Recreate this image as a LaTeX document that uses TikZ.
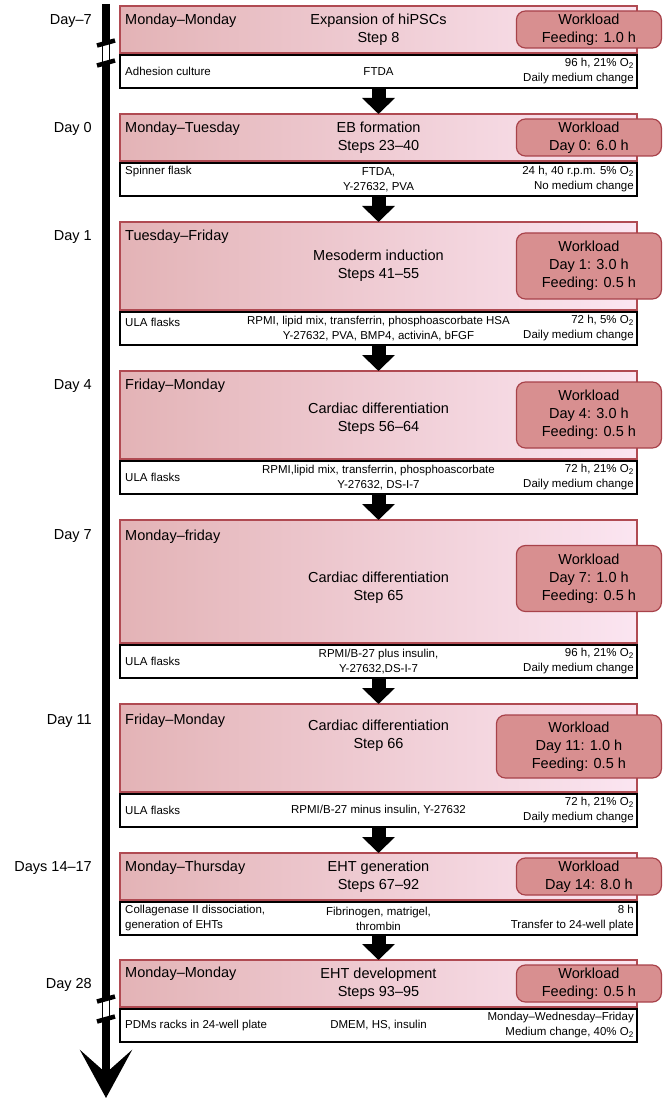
\documentclass[tikz,border=0pt]{standalone}
\usepackage{fontspec}
\setmainfont{Liberation Sans}
\usepackage{tikz}
\usetikzlibrary{arrows.meta, positioning}
\usepackage{xcolor}
\definecolor{HdrLeft}{HTML}{E3B3B6}
\definecolor{HdrRight}{HTML}{FBE5F1}
\definecolor{HdrEdge}{HTML}{B04A52}
\definecolor{WorkFill}{HTML}{D88F90}
\definecolor{WorkEdge}{HTML}{A8424A}
\tikzset{
  hdrbox/.style={draw=HdrEdge, line width=1.1pt, left color=HdrLeft, right color=HdrRight,
    minimum width=517pt, inner sep=0pt, outer sep=0pt},
  rowbox/.style={draw=black, line width=1.1pt, fill=white, minimum width=517pt,
    minimum height=33pt, inner sep=0pt, outer sep=0pt},
  wlbox/.style={draw=WorkEdge, line width=1.2pt, fill=WorkFill, rounded corners=9pt, align=center,
    minimum width=145pt, inner sep=0pt, anchor=east, font=\fontsize{14.5}{18}\selectfont},
  daytext/.style={anchor=east, inner sep=0pt, font=\fontsize{14.5}{18}\selectfont},
  weektext/.style={anchor=west, inner sep=0pt, font=\fontsize{14.5}{18}\selectfont},
  titletext/.style={align=center, inner sep=0pt, font=\fontsize{14.5}{18}\selectfont},
  ltext/.style={anchor=west, align=left, inner sep=0pt, font=\fontsize{11.5}{15}\selectfont},
  mtext/.style={align=center, inner sep=0pt, font=\fontsize{11.5}{15}\selectfont},
  rtext/.style={anchor=east, align=right, inner sep=0pt, font=\fontsize{11.5}{15}\selectfont},
  flow/.style={-{Triangle[length=16pt, width=32pt]}, line width=14pt},
  timeline/.style={-{Stealth[length=48pt, width=52pt, inset=23pt]}, line width=8pt},
}
\newcommand{\Otwo}{O\textsubscript{2}}
% cut marks on the time axis, #1 = middle of the gap
\newcommand{\timebreak}[1]{%
  \fill[white] (102,#1+10) rectangle (110,#1-10);
  \draw[line width=0.6pt] (102.3,#1+10) -- (102.3,#1-10) (109.7,#1+10) -- (109.7,#1-10);
  \draw[line width=4.5pt] (97,#1+7.5) -- (115,#1+12.5);
  \draw[line width=4.5pt] (97,#1-12.5) -- (115,#1-7.5);
}

\begin{document}
\begin{tikzpicture}[x=1pt, y=1pt]
  \useasboundingbox (0,0) rectangle (668,-1099);

  % time axis
  \coordinate (tltop) at (106,-4);
  \coordinate (tlend) at (106,-1098);
  \draw[timeline] (tltop) -- (tlend);

  % stages
  \node[hdrbox, minimum height=47pt, anchor=north west] (h1) at (120,-6) {};
  \node[rowbox, below=2pt of h1] (r1) {};
  \node[hdrbox, minimum height=47pt, below=26pt of r1] (h2) {};
  \node[rowbox, below=2pt of h2] (r2) {};
  \node[hdrbox, minimum height=88pt, below=26pt of r2] (h3) {};
  \node[rowbox, below=2pt of h3] (r3) {};
  \node[hdrbox, minimum height=88pt, below=26pt of r3] (h4) {};
  \node[rowbox, below=2pt of h4] (r4) {};
  \node[hdrbox, minimum height=123pt, below=26pt of r4] (h5) {};
  \node[rowbox, below=2pt of h5] (r5) {};
  \node[hdrbox, minimum height=88pt, below=26pt of r5] (h6) {};
  \node[rowbox, below=2pt of h6] (r6) {};
  \node[hdrbox, minimum height=47pt, below=26pt of r6] (h7) {};
  \node[rowbox, below=2pt of h7] (r7) {};
  \node[hdrbox, minimum height=47pt, below=25pt of r7] (h8) {};
  \node[rowbox, below=2pt of h8] (r8) {};

  \draw[flow] (r1) -- (h2); \draw[flow] (r2) -- (h3); \draw[flow] (r3) -- (h4);
  \draw[flow] (r4) -- (h5); \draw[flow] (r5) -- (h6); \draw[flow] (r6) -- (h7);
  \draw[flow] (r7) -- (h8);

  \timebreak{-53}
  \timebreak{-1009}

  % day labels
  \node[daytext] (d1) at ([shift={(-28pt,-15pt)}]h1.north west) {Day–7};
  \node[daytext] (d2) at ([shift={(-28pt,-15pt)}]h2.north west) {Day 0};
  \node[daytext] (d3) at ([shift={(-28pt,-15pt)}]h3.north west) {Day 1};
  \node[daytext] (d4) at ([shift={(-28pt,-15pt)}]h4.north west) {Day 4};
  \node[daytext] (d5) at ([shift={(-28pt,-16pt)}]h5.north west) {Day 7};
  \node[daytext] (d6) at ([shift={(-28pt,-17pt)}]h6.north west) {Day 11};
  \node[daytext] (d7) at ([shift={(-28pt,-15pt)}]h7.north west) {Days 14–17};
  \node[daytext] (d8) at ([shift={(-28pt,-25pt)}]h8.north west) {Day 28};

  % weekdays
  \node[weektext] (k1) at ([shift={(5pt,-15pt)}]h1.north west) {Monday–Monday};
  \node[weektext] (k2) at ([shift={(5pt,-15pt)}]h2.north west) {Monday–Tuesday};
  \node[weektext] (k3) at ([shift={(5pt,-15pt)}]h3.north west) {Tuesday–Friday};
  \node[weektext] (k4) at ([shift={(5pt,-15pt)}]h4.north west) {Friday–Monday};
  \node[weektext] (k5) at ([shift={(5pt,-17pt)}]h5.north west) {Monday–friday};
  \node[weektext] (k6) at ([shift={(5pt,-17pt)}]h6.north west) {Friday–Monday};
  \node[weektext] (k7) at ([shift={(5pt,-15pt)}]h7.north west) {Monday–Thursday};
  \node[weektext] (k8) at ([shift={(5pt,-14pt)}]h8.north west) {Monday–Monday};

  % titles
  \node[titletext] (t1) at (h1) {Expansion of hiPSCs\\Step 8};
  \node[titletext] (t2) at (h2) {EB formation\\Steps 23–40};
  \node[titletext] (t3) at (h3) {Mesoderm induction\\Steps 41–55};
  \node[titletext] (t4) at ([yshift=-4pt]h4.center) {Cardiac differentiation\\Steps 56–64};
  \node[titletext] (t5) at ([yshift=-6pt]h5.center) {Cardiac differentiation\\Step 65};
  \node[titletext, anchor=north] (t6) at ([yshift=-15.5pt]h6.north) {Cardiac differentiation\\Step 66};
  \node[titletext] (t7) at (h7) {EHT generation\\Steps 67–92};
  \node[titletext] (t8) at (h8) {EHT development\\Steps 93–95};

  % workload
  \node[wlbox, minimum height=37pt] (w1) at ([xshift=25pt]h1.east) {Workload\\Feeding: 1.0 h};
  \node[wlbox, minimum height=37pt] (w2) at ([xshift=25pt]h2.east) {Workload\\Day 0: 6.0 h};
  \node[wlbox, minimum height=66pt] (w3) at ([xshift=25pt]h3.east) {Workload\\Day 1: 3.0 h\\Feeding: 0.5 h};
  \node[wlbox, minimum height=66pt] (w4) at ([xshift=25pt]h4.east) {Workload\\Day 4: 3.0 h\\Feeding: 0.5 h};
  \node[wlbox, minimum height=66pt] (w5) at ([shift={(25pt,3pt)}]h5.east) {Workload\\Day 7: 1.0 h\\Feeding: 0.5 h};
  \node[wlbox, minimum height=63pt, minimum width=165pt] (w6) at ([shift={(25pt,1.5pt)}]h6.east) {Workload\\Day 11: 1.0 h\\Feeding: 0.5 h};
  \node[wlbox, minimum height=37pt] (w7) at ([xshift=25pt]h7.east) {Workload\\Day 14: 8.0 h};
  \node[wlbox, minimum height=37pt] (w8) at ([xshift=25pt]h8.east) {Workload\\Feeding: 0.5 h};

  % culture conditions
  \node[ltext] (a1) at ([xshift=5pt]r1.west) {Adhesion culture};
  \node[mtext] (b1) at (r1) {FTDA};
  \node[rtext] (c1) at ([xshift=-3pt]r1.east) {96 h, 21\% \Otwo\\Daily medium change};

  \node[ltext] (a2) at ([shift={(5pt,-9pt)}]r2.north west) {Spinner flask};
  \node[mtext] (b2) at (r2) {FTDA,\\Y-27632, PVA};
  \node[rtext] (c2) at ([xshift=-3pt]r2.east) {24 h, 40 r.p.m. 5\% \Otwo\\No medium change};

  \node[ltext] (a3) at ([shift={(5pt,-10pt)}]r3.north west) {ULA flasks};
  \node[mtext] (b3) at (r3) {RPMI, lipid mix, transferrin, phosphoascorbate HSA\\Y-27632, PVA, BMP4, activinA, bFGF};
  \node[rtext] (c3) at ([xshift=-3pt]r3.east) {72 h, 5\% \Otwo\\Daily medium change};

  \node[ltext] (a4) at ([xshift=5pt]r4.west) {ULA flasks};
  \node[mtext] (b4) at (r4) {RPMI,lipid mix, transferrin, phosphoascorbate\\Y-27632, DS-I-7};
  \node[rtext] (c4) at ([xshift=-3pt]r4.east) {72 h, 21\% \Otwo\\Daily medium change};

  \node[ltext] (a5) at ([xshift=5pt]r5.west) {ULA flasks};
  \node[mtext] (b5) at (r5) {RPMI/B-27 plus insulin,\\Y-27632,DS-I-7};
  \node[rtext] (c5) at ([xshift=-3pt]r5.east) {96 h, 21\% \Otwo\\Daily medium change};

  \node[ltext] (a6) at ([xshift=5pt]r6.west) {ULA flasks};
  \node[mtext] (b6) at (r6) {RPMI/B-27 minus insulin, Y-27632};
  \node[rtext] (c6) at ([xshift=-3pt]r6.east) {72 h, 21\% \Otwo\\Daily medium change};

  \node[ltext] (a7) at ([xshift=5pt]r7.west) {Collagenase II dissociation,\\generation of EHTs};
  \node[mtext] (b7) at (r7) {Fibrinogen, matrigel,\\thrombin};
  \node[rtext] (c7) at ([xshift=-3pt]r7.east) {8 h\\Transfer to 24-well plate};

  \node[ltext] (a8) at ([xshift=5pt]r8.west) {PDMs racks in 24-well plate};
  \node[mtext] (b8) at (r8) {DMEM, HS, insulin};
  \node[rtext] (c8) at ([xshift=-3pt]r8.east) {Monday–Wednesday–Friday\\Medium change, 40\% \Otwo};
\end{tikzpicture}
\end{document}
